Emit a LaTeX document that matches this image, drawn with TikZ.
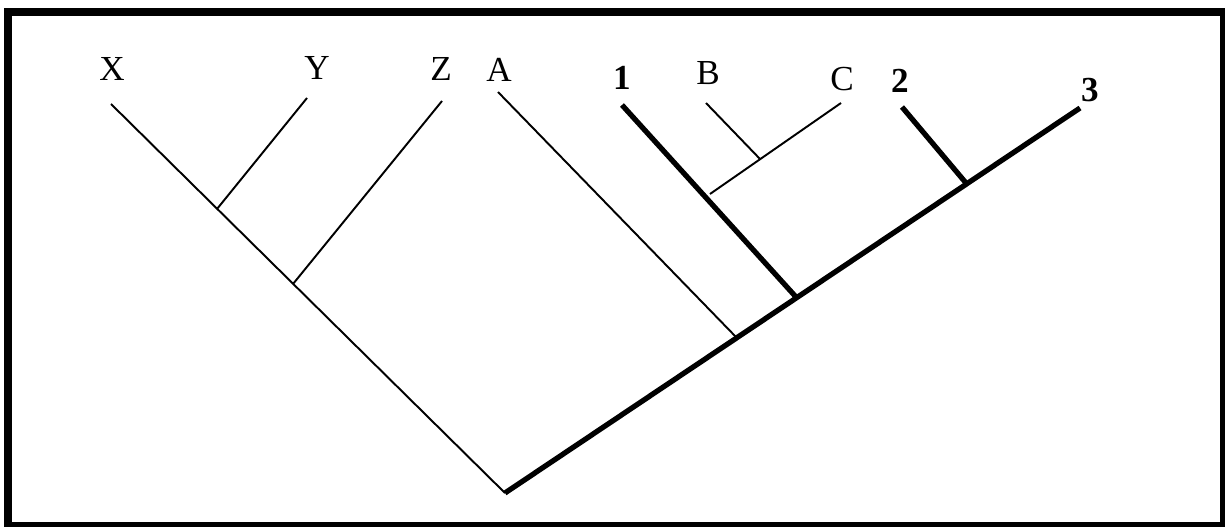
\documentclass[tikz,border=0pt]{standalone}
\usepackage{fontspec}
\setmainfont{Liberation Serif}
\usepackage{tikz}

\begin{document}
\begin{tikzpicture}[
            x = 0.02cm, y = -0.02cm, % one unit per pixel, y pointing down
            thin branch/.style = {line width = 1.1pt},
            thick branch/.style = {line width = 3pt},
            taxon/.style = {inner sep = 0pt, font = \fontsize{20}{24}\selectfont},
            group/.style = {taxon, font = \fontsize{20}{24}\selectfont\bfseries}
        ]

        \useasboundingbox (0,0) rectangle (1225,527);
        \draw[line width = 4.5pt] (8,12) rectangle (1224,526);

        % branch points
        \coordinate (root) at (505,493);
        \coordinate (jy) at (217,209);
        \coordinate (jz) at (293,284);
        \coordinate (ja) at (736,337);
        \coordinate (j1) at (796,297);
        \coordinate (j2) at (966,183);
        \coordinate (jbc1) at (710,194);
        \coordinate (jbc) at (760,159);

        % branch tips
        \coordinate (tx) at (111,104);
        \coordinate (ty) at (307,98);
        \coordinate (tz) at (442,101);
        \coordinate (ta) at (498,92);
        \coordinate (t1) at (622,105);
        \coordinate (tb) at (706,103);
        \coordinate (tc) at (841,103);
        \coordinate (t2) at (902,107);
        \coordinate (t3) at (1080,108);

        % labels
        \node[taxon] (x) at (112,69) {X};
        \node[taxon] (y) at (317,68) {Y};
        \node[taxon] (z) at (441,69) {Z};
        \node[taxon] (a) at (499,70) {A};
        \node[group] (g1) at (622,78) {1};
        \node[taxon] (b) at (708,73) {B};
        \node[taxon] (c) at (842,79) {C};
        \node[group] (g2) at (900,81) {2};
        \node[group] (g3) at (1090,90) {3};

        % thin lineages
        \draw[thin branch] (root) -- (tx);
        \draw[thin branch] (jy) -- (ty);
        \draw[thin branch] (jz) -- (tz);
        \draw[thin branch] (ja) -- (ta);
        \draw[thin branch] (jbc1) -- (tc);
        \draw[thin branch] (jbc) -- (tb);

        % thick lineages
        \draw[thick branch] (root) -- (t3);
        \draw[thick branch] (j1) -- (t1);
        \draw[thick branch] (j2) -- (t2);

  \end{tikzpicture}
\end{document}
